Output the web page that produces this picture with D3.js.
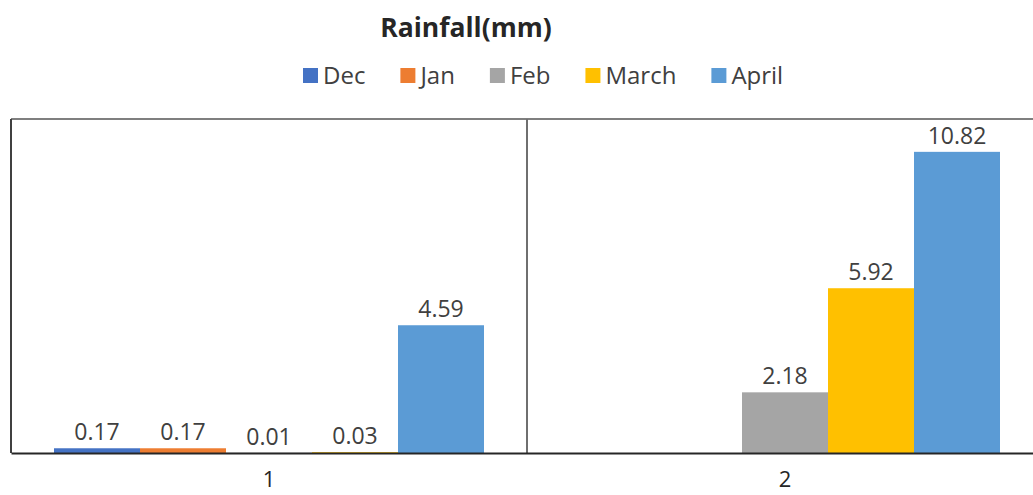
<!DOCTYPE html>
<html>
<head>
<meta charset="utf-8">
<script src="https://cdn.jsdelivr.net/npm/d3@7"></script>
<style>
  html, body { margin: 0; padding: 0; background: #fff; }
  svg { display: block; }
  text { font-family: "Open Sans", sans-serif; }
</style>
</head>
<body>
<svg id="chart" width="1033" height="495"></svg>
<script>
// ---- data ----
const categories = ["1", "2"];
const seriesNames = ["Dec", "Jan", "Feb", "March", "April"];
const decValues = [0.17, null];
const janValues = [0.17, null];
const febValues = [0.01, 2.18];
const marchValues = [0.03, 5.92];
const aprilValues = [4.59, 10.82];
const seriesColors = ["#4472C4", "#ED7D31", "#A5A5A5", "#FFC000", "#5B9BD5"];
const yDomain = [0, 12];
const chartTitle = "Rainfall(mm)";

const seriesValues = [decValues, janValues, febValues, marchValues, aprilValues];

const svg = d3.select("#chart");
const plot = { left: 11, right: 1043, top: 119, bottom: 453 };

const x0 = d3.scaleBand().domain(categories).range([plot.left, plot.right]).padding(0);
const x1 = d3.scaleBand().domain(seriesNames).range([0, x0.bandwidth()])
  .paddingInner(0).paddingOuter(0.5);
const y = d3.scaleLinear().domain(yDomain).range([plot.bottom, plot.top]);

// title
svg.append("text")
  .attr("x", 466).attr("y", 37)
  .attr("text-anchor", "middle")
  .attr("font-size", 26.5).attr("font-weight", "bold")
  .attr("fill", "#262626")
  .text(chartTitle);

// legend
const legend = svg.append("g");
let lx = 303;
seriesNames.forEach((name, i) => {
  const g = legend.append("g");
  g.append("rect").attr("x", lx).attr("y", 68).attr("width", 15).attr("height", 15)
    .attr("fill", seriesColors[i]);
  const t = g.append("text").attr("x", lx + 20).attr("y", 84)
    .attr("font-size", 24).attr("fill", "#404040").text(name);
  const w = t.node().getComputedTextLength();
  lx += 20 + w + 35;
});

// bars
const data = [];
categories.forEach((c, ci) => {
  seriesNames.forEach((s, si) => {
    const v = seriesValues[si][ci];
    if (v !== null && v !== undefined) data.push({ cat: c, series: s, value: v, color: seriesColors[si] });
  });
});

svg.append("g").selectAll("rect").data(data).join("rect")
  .attr("x", d => x0(d.cat) + x1(d.series))
  .attr("y", d => y(d.value))
  .attr("width", x1.bandwidth())
  .attr("height", d => y(0) - y(d.value))
  .attr("fill", d => d.color);

// value labels
svg.append("g").selectAll("text").data(data).join("text")
  .attr("x", d => x0(d.cat) + x1(d.series) + x1.bandwidth() / 2)
  .attr("y", d => y(d.value) - 8)
  .attr("text-anchor", "middle")
  .attr("font-size", 23)
  .attr("fill", "#404040")
  .text(d => d.value.toFixed(2));

// frame
const frame = svg.append("g").attr("fill", "none");
frame.append("line").attr("x1", plot.left).attr("x2", plot.right)
  .attr("y1", plot.top).attr("y2", plot.top).attr("stroke", "#7f7f7f").attr("stroke-width", 2);
frame.append("line").attr("x1", plot.left).attr("x2", plot.left)
  .attr("y1", plot.top).attr("y2", plot.bottom).attr("stroke", "#404040").attr("stroke-width", 2);
categories.slice(1).forEach(c => {
  frame.append("line").attr("x1", x0(c)).attr("x2", x0(c))
    .attr("y1", plot.top).attr("y2", plot.bottom).attr("stroke", "#6f6f6f").attr("stroke-width", 2);
});

// x axis
const xAxis = svg.append("g").attr("transform", `translate(0,${plot.bottom})`)
  .call(d3.axisBottom(x0).tickSize(0).tickPadding(18));
xAxis.select(".domain").attr("stroke", "#262626").attr("stroke-width", 2);
xAxis.selectAll("text").attr("font-size", 22).attr("fill", "#262626")
  .attr("font-family", "'Open Sans', sans-serif");
</script>
</body>
</html>
